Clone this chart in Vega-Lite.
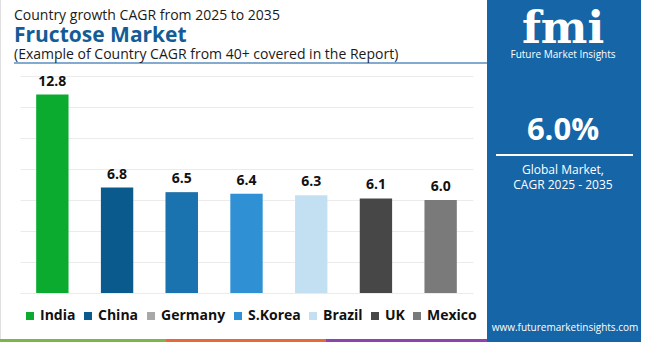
{
  "$schema": "https://vega.github.io/schema/vega-lite/v6.json",
  "width": 453,
  "height": 217,
  "autosize": {"type": "none"},
  "padding": {"left": 20, "top": 76, "right": 177, "bottom": 49},
  "background": "white",
  "config": {"view": {"stroke": null}, "font": "Open Sans", "axisY": {"labels": false, "ticks": false, "domain": false, "title": null, "gridColor": "#ebebeb", "gridWidth": 1, "values": [0, 2, 4, 6, 8, 10, 12, 14]}},
  "data": {
    "values": [
      {"country": "India", "cagr": 12.8},
      {"country": "China", "cagr": 6.8},
      {"country": "Germany", "cagr": 6.5},
      {"country": "S.Korea", "cagr": 6.4},
      {"country": "Brazil", "cagr": 6.3},
      {"country": "UK", "cagr": 6.1},
      {"country": "Mexico", "cagr": 6.0}
    ]
  },
  "layer": [
    {
      "mark": {"type": "bar"},
      "encoding": {
        "x": {"field": "country", "type": "nominal", "sort": null, "scale": {"paddingInner": 0.5, "paddingOuter": 0.25}, "axis": null},
        "y": {"field": "cagr", "type": "quantitative", "scale": {"domain": [0, 14]}},
        "color": {"field": "country", "type": "nominal", "sort": null, "scale": {"domain": ["India", "China", "Germany", "S.Korea", "Brazil", "UK", "Mexico"], "range": ["#0aab2e", "#0b5a8e", "#a8a8a8", "#2f90d3", "#c3e0f2", "#474747", "#7a7a7a"]},
          "legend": {"orient": "none", "direction": "horizontal", "columns": 7, "legendX": 3, "legendY": 233, "title": null, "symbolType": "square", "symbolSize": 64, "symbolOpacity": 1, "symbolStrokeWidth": 0, "labelFont": "Open Sans", "labelFontSize": 14, "labelFontWeight": "bold", "labelColor": "#111111", "labelOffset": 3, "columnPadding": 5}}
      }
    },
    {
      "transform": [{"filter": "datum.country === 'Germany'"}],
      "mark": {"type": "bar", "color": "#1a72ae"},
      "encoding": {
        "x": {"field": "country", "type": "nominal", "sort": null},
        "y": {"field": "cagr", "type": "quantitative"}
      }
    },
    {
      "mark": {"type": "text", "dy": -9, "baseline": "alphabetic", "fontSize": 14, "fontWeight": "bold", "font": "Open Sans", "color": "#111111"},
      "encoding": {
        "x": {"field": "country", "type": "nominal", "sort": null},
        "y": {"field": "cagr", "type": "quantitative"},
        "text": {"field": "cagr", "type": "quantitative", "format": ".1f"}
      }
    },
    {
      "data": {"values": [{}]},
      "mark": {"type": "rule", "color": "#e0e0e0", "strokeWidth": 1},
      "encoding": {"x": {"value": -19.5}, "y": {"value": -76}, "y2": {"value": 263}}
    },
    {
      "data": {"values": [{}]},
      "mark": {"type": "rect", "color": "#1565a7"},
      "encoding": {"x": {"value": 467}, "x2": {"value": 621}, "y": {"value": -76}, "y2": {"value": 266}}
    },
    {
      "data": {"values": [{}]},
      "mark": {"type": "rect", "color": "#7ab648"},
      "encoding": {"x": {"value": -20}, "x2": {"value": 146}, "y": {"value": 263}, "y2": {"value": 266}}
    },
    {
      "data": {"values": [{}]},
      "mark": {"type": "rect", "color": "#e8683a"},
      "encoding": {"x": {"value": 146}, "x2": {"value": 306}, "y": {"value": 263}, "y2": {"value": 266}}
    },
    {
      "data": {"values": [{}]},
      "mark": {"type": "rect", "color": "#8e44ad"},
      "encoding": {"x": {"value": 306}, "x2": {"value": 467}, "y": {"value": 263}, "y2": {"value": 266}}
    },
    {
      "data": {"values": [{}]},
      "mark": {"type": "rule", "color": "#5b8fbf", "strokeWidth": 1.5},
      "encoding": {"x": {"value": -6}, "x2": {"value": 467}, "y": {"value": -13}}
    },
    {
      "data": {"values": [{}]},
      "mark": {"type": "rule", "color": "#ffffff", "strokeWidth": 2},
      "encoding": {"x": {"value": 476}, "x2": {"value": 613}, "y": {"value": 79}}
    },
    {
      "data": {"values": [{}]},
      "mark": {"type": "text", "text": "Country growth CAGR from 2025 to 2035", "align": "left", "baseline": "alphabetic", "fontSize": 14, "font": "Open Sans", "color": "#1a1a1a"},
      "encoding": {"x": {"value": -6}, "y": {"value": -56}}
    },
    {
      "data": {"values": [{}]},
      "mark": {"type": "text", "text": "Fructose Market", "align": "left", "baseline": "alphabetic", "fontSize": 21, "fontWeight": "bold", "font": "Open Sans", "color": "#135c96"},
      "encoding": {"x": {"value": -6}, "y": {"value": -34}}
    },
    {
      "data": {"values": [{}]},
      "mark": {"type": "text", "text": "(Example of Country CAGR from 40+ covered in the Report)", "align": "left", "baseline": "alphabetic", "fontSize": 14, "font": "Open Sans", "color": "#1a1a1a"},
      "encoding": {"x": {"value": -6}, "y": {"value": -17}}
    },
    {
      "data": {"values": [{}]},
      "mark": {"type": "text", "text": "fmi", "align": "center", "baseline": "alphabetic", "fontSize": 44, "fontWeight": "bold", "font": "DejaVu Serif", "color": "#ffffff"},
      "encoding": {"x": {"value": 543}, "y": {"value": -33}}
    },
    {
      "data": {"values": [{}]},
      "mark": {"type": "text", "text": "Future Market Insights", "align": "center", "baseline": "alphabetic", "fontSize": 10, "font": "Open Sans", "color": "#ffffff"},
      "encoding": {"x": {"value": 543}, "y": {"value": -18}}
    },
    {
      "data": {"values": [{}]},
      "mark": {"type": "text", "text": "6.0%", "align": "center", "baseline": "alphabetic", "fontSize": 31, "fontWeight": "bold", "font": "Open Sans", "color": "#ffffff"},
      "encoding": {"x": {"value": 543}, "y": {"value": 64}}
    },
    {
      "data": {"values": [{}]},
      "mark": {"type": "text", "text": "Global Market,", "align": "center", "baseline": "alphabetic", "fontSize": 12, "font": "Open Sans", "color": "#ffffff"},
      "encoding": {"x": {"value": 543}, "y": {"value": 98}}
    },
    {
      "data": {"values": [{}]},
      "mark": {"type": "text", "text": "CAGR 2025 - 2035", "align": "center", "baseline": "alphabetic", "fontSize": 12, "font": "Open Sans", "color": "#ffffff"},
      "encoding": {"x": {"value": 543}, "y": {"value": 113}}
    },
    {
      "data": {"values": [{}]},
      "mark": {"type": "text", "text": "www.futuremarketinsights.com", "align": "center", "baseline": "alphabetic", "fontSize": 10, "font": "Open Sans", "color": "#ffffff"},
      "encoding": {"x": {"value": 545}, "y": {"value": 255}}
    }
  ]
}
